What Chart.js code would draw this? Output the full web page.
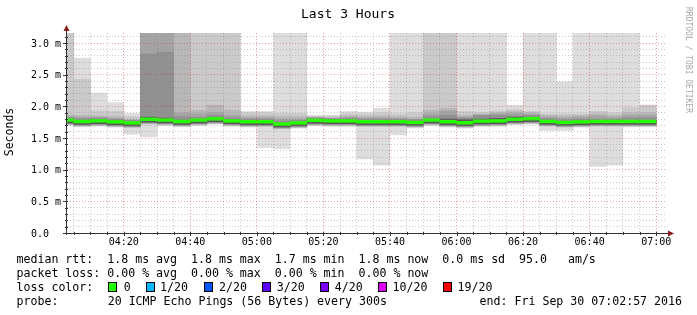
<!DOCTYPE html>
<html>
<head>
<meta charset="utf-8">
<title>Last 3 Hours</title>
<script src="https://cdn.jsdelivr.net/npm/chart.js@4.4.1/dist/chart.umd.min.js"></script>
<style>
  html, body { margin: 0; padding: 0; background: #fff; }
  canvas { display: block; }
</style>
</head>
<body>
<canvas id="smoke" width="697" height="315"></canvas>
<script>
// === SMOKEPING "Last 3 Hours", in ms ===

// start of each 5 minute step (first one is cut by the left edge)
const slotStart = [
  "04:00", "04:05", "04:10", "04:15", "04:20", "04:25", "04:30", "04:35", "04:40", "04:45", "04:50", "04:55",
  "05:00", "05:05", "05:10", "05:15", "05:20", "05:25", "05:30", "05:35", "05:40", "05:45", "05:50", "05:55",
  "06:00", "06:05", "06:10", "06:15", "06:20", "06:25", "06:30", "06:35", "06:40", "06:45", "06:50", "06:55",
];

// median rtt (green line)
const median = [1.785, 1.762, 1.773, 1.756, 1.740, 1.797, 1.785, 1.762, 1.784, 1.803, 1.772, 1.758,
  1.758, 1.721, 1.740, 1.780, 1.772, 1.772, 1.758, 1.758, 1.758, 1.747, 1.784, 1.758,
  1.742, 1.768, 1.772, 1.797, 1.806, 1.763, 1.747, 1.756, 1.763, 1.763, 1.763, 1.763];

// smoke: outer band (#ddd) top / bottom ... inner band
const hi1 = [3.5, 2.76, 2.21, 2.06, 1.89, 3.5, 3.5, 3.5, 3.5, 3.5, 3.5, 1.92,
  1.92, 3.5, 3.5, 1.86, 1.86, 1.92, 1.91, 1.97, 3.5, 3.5, 3.5, 3.5,
  3.5, 3.5, 3.5, 2.02, 3.5, 3.5, 2.39, 3.5, 3.5, 3.5, 3.5, 2.02];
const hi2 = [3.5, 2.43, 1.93, 1.92, 1.84, 3.5, 3.5, 3.5, 3.5, 3.5, 3.5, 1.90,
  1.90, 1.89, 1.89, 1.84, 1.85, 1.88, 1.88, 1.90, 1.88, 1.90, 3.5, 3.5,
  1.92, 1.90, 1.93, 1.95, 1.92, 1.88, 1.88, 1.88, 1.92, 1.90, 1.98, 2.02];
const hi3 = [1.86, 1.86, 1.85, 1.84, 1.80, 3.5, 3.5, 3.5, 1.94, 2.02, 1.94, 1.85,
  1.85, 1.84, 1.84, 1.83, 1.82, 1.85, 1.84, 1.85, 1.84, 1.83, 1.94, 1.97,
  1.86, 1.88, 1.90, 1.92, 1.90, 1.86, 1.85, 1.86, 1.88, 1.86, 1.90, 1.90];
const hi4 = [1.84, 1.83, 1.83, 1.81, 1.78, 3.5, 3.5, 1.90, 1.88, 1.90, 1.86, 1.82,
  1.82, 1.80, 1.80, 1.82, 1.81, 1.83, 1.82, 1.82, 1.81, 1.80, 1.88, 1.93,
  1.83, 1.86, 1.88, 1.89, 1.87, 1.83, 1.82, 1.83, 1.85, 1.83, 1.86, 1.86];
const hi5 = [1.825, 1.805, 1.815, 1.795, 1.78, 2.83, 2.86, 1.84, 1.83, 1.86, 1.82, 1.80,
  1.80, 1.77, 1.78, 1.82, 1.81, 1.81, 1.80, 1.80, 1.80, 1.79, 1.84, 1.86,
  1.82, 1.86, 1.86, 1.85, 1.86, 1.81, 1.79, 1.80, 1.80, 1.80, 1.82, 1.82];
const coreHi = [1.795, 1.772, 1.783, 1.766, 1.750, 1.830, 1.815, 1.772, 1.794, 1.813, 1.782, 1.768,
  1.768, 1.731, 1.750, 1.790, 1.782, 1.782, 1.768, 1.768, 1.768, 1.757, 1.794, 1.800,
  1.790, 1.800, 1.810, 1.830, 1.816, 1.773, 1.757, 1.766, 1.773, 1.773, 1.773, 1.773];
const coreLo = [1.740, 1.717, 1.728, 1.711, 1.695, 1.752, 1.740, 1.717, 1.739, 1.758, 1.727, 1.713,
  1.713, 1.676, 1.695, 1.735, 1.727, 1.727, 1.713, 1.713, 1.713, 1.702, 1.739, 1.713,
  1.697, 1.723, 1.727, 1.752, 1.761, 1.718, 1.702, 1.711, 1.718, 1.718, 1.718, 1.718];
const lo5 = [1.730, 1.707, 1.718, 1.701, 1.685, 1.742, 1.730, 1.707, 1.729, 1.748, 1.717, 1.703,
  1.703, 1.666, 1.685, 1.725, 1.717, 1.717, 1.703, 1.703, 1.703, 1.692, 1.729, 1.703,
  1.687, 1.713, 1.717, 1.742, 1.751, 1.708, 1.692, 1.701, 1.708, 1.708, 1.708, 1.708];
const lo4 = [1.723, 1.700, 1.711, 1.694, 1.678, 1.735, 1.723, 1.700, 1.722, 1.741, 1.710, 1.696,
  1.696, 1.659, 1.678, 1.718, 1.710, 1.710, 1.696, 1.696, 1.696, 1.685, 1.722, 1.696,
  1.680, 1.706, 1.710, 1.735, 1.744, 1.701, 1.685, 1.694, 1.701, 1.701, 1.701, 1.701];
const lo3 = [1.717, 1.694, 1.705, 1.688, 1.672, 1.729, 1.717, 1.694, 1.716, 1.735, 1.704, 1.690,
  1.690, 1.653, 1.672, 1.712, 1.704, 1.704, 1.690, 1.690, 1.690, 1.679, 1.716, 1.690,
  1.674, 1.700, 1.704, 1.729, 1.738, 1.695, 1.679, 1.688, 1.695, 1.695, 1.695, 1.695];
const lo2 = [1.710, 1.687, 1.698, 1.681, 1.665, 1.722, 1.710, 1.687, 1.709, 1.728, 1.697, 1.683,
  1.683, 1.646, 1.665, 1.705, 1.697, 1.697, 1.683, 1.683, 1.683, 1.672, 1.709, 1.683,
  1.667, 1.693, 1.697, 1.722, 1.731, 1.688, 1.672, 1.681, 1.688, 1.688, 1.688, 1.688];
const lo1 = [1.700, 1.677, 1.688, 1.671, 1.56, 1.52, 1.700, 1.677, 1.699, 1.718, 1.687, 1.673,
  1.35, 1.33, 1.655, 1.695, 1.687, 1.687, 1.17, 1.07, 1.55, 1.662, 1.699, 1.673,
  1.657, 1.683, 1.687, 1.712, 1.721, 1.62, 1.62, 1.671, 1.05, 1.07, 1.678, 1.678];

// axes
const xLabels = ["04:20", "04:40", "05:00", "05:20", "05:40", "06:00", "06:20", "06:40", "07:00"];
const yLabelValues = [0, 0.5, 1.0, 1.5, 2.0, 2.5, 3.0];
const yLabels = ["0.0", "0.5 m", "1.0 m", "1.5 m", "2.0 m", "2.5 m", "3.0 m"];
const rangeStart = "04:02:57";
const rangeEnd = "07:02:57";
const yTop = 3.16;

// legend text
const title = "Last 3 Hours";
const yTitle = "Seconds";
const credit = "RRDTOOL / TOBI OETIKER";
const rttLine = "median rtt:  1.8 ms avg  1.8 ms max  1.7 ms min  1.8 ms now  0.0 ms sd  95.0   am/s";
const lossLine = "packet loss: 0.00 % avg  0.00 % max  0.00 % min  0.00 % now";
const lossTitle = "loss color:";
const lossLabels = ["0", "1/20", "2/20", "3/20", "4/20", "10/20", "19/20"];
const lossColors = ["#26ff00", "#00b8ff", "#0059ff", "#5e00ff", "#7e00ff", "#dd00ff", "#ff0000"];
const probeTitle = "probe:";
const probeText = "20 ICMP Echo Pings (56 Bytes) every 300s";
const endText = "end: Fri Sep 30 07:02:57 2016";

// === helpers ===
function toMin(s) {
  const p = s.split(":").map(Number);
  return p[0] * 60 + p[1] + (p[2] || 0) / 60;
}
const STEP = 5;
const centers = slotStart.map((s) => toMin(s) + STEP / 2);
const MED_HALF = 0.022; // half thickness of the median line

function band(lo, hi, color) {
  return {
    data: centers.map((x, i) => ({ x, y: [lo[i], hi[i]] })),
    backgroundColor: color,
    borderWidth: 0,
    barPercentage: 1,
    categoryPercentage: 1,
    grouped: false,
    clip: 0,
  };
}

// first dataset is drawn on top
const datasets = [
  band(median.map((m) => m - MED_HALF), median.map((m) => m + MED_HALF), "#26ff00"),
  band(coreLo, coreHi, "#585858"),
  band(lo5, hi5, "#919191"),
  band(lo4, hi4, "#a4a4a4"),
  band(lo3, hi3, "#b7b7b7"),
  band(lo2, hi2, "#cacaca"),
  band(lo1, hi1, "#dddddd"),
];

const MINOR = "rgba(128,128,128,0.42)";
const MAJOR = "rgba(210,40,40,0.42)";
const MONO = '"DejaVu Sans Mono", monospace';

// === texts, axes and arrows drawn rrdtool style ===
const rrdPlugin = {
  id: "rrdDecor",
  afterDraw(chart) {
    const ctx = chart.ctx;
    const xs = chart.scales.x, ys = chart.scales.y;
    const a = chart.chartArea;
    ctx.save();

    // axis lines
    ctx.strokeStyle = "#333";
    ctx.lineWidth = 1;
    ctx.beginPath();
    ctx.moveTo(a.left - 0.5, a.bottom + 2);
    ctx.lineTo(a.left - 0.5, a.top - 3);
    ctx.moveTo(a.left - 3, a.bottom + 0.5);
    ctx.lineTo(a.right + 4, a.bottom + 0.5);
    ctx.stroke();

    // tick marks
    ctx.beginPath();
    xs.ticks.forEach((t) => {
      const px = Math.round(xs.getPixelForValue(t.value)) + 0.5;
      const major = Math.round(t.value) % 20 === 0;
      ctx.moveTo(px, a.bottom - 1);
      ctx.lineTo(px, a.bottom + (major ? 3 : 2));
    });
    ys.ticks.forEach((t) => {
      const py = Math.round(ys.getPixelForValue(t.value)) + 0.5;
      const major = Math.round(t.value * 10) % 5 === 0;
      ctx.moveTo(a.left + 1, py);
      ctx.lineTo(a.left - (major ? 4 : 2), py);
    });
    ctx.stroke();

    // arrows
    ctx.fillStyle = "#8b1a1a";
    ctx.beginPath();
    ctx.moveTo(a.left - 0.5, a.top - 8);
    ctx.lineTo(a.left - 3.5, a.top - 2);
    ctx.lineTo(a.left + 2.5, a.top - 2);
    ctx.closePath();
    ctx.fill();
    ctx.beginPath();
    ctx.moveTo(a.right + 8, a.bottom + 0.5);
    ctx.lineTo(a.right + 2, a.bottom - 2.5);
    ctx.lineTo(a.right + 2, a.bottom + 3.5);
    ctx.closePath();
    ctx.fill();

    ctx.fillStyle = "#000";
    ctx.textBaseline = "alphabetic";

    // x labels
    ctx.font = "10px " + MONO;
    ctx.textAlign = "center";
    xLabels.forEach((l) => ctx.fillText(l, xs.getPixelForValue(toMin(l)), a.bottom + 12));

    // y labels
    ctx.textAlign = "left";
    yLabelValues.forEach((v, i) => ctx.fillText(yLabels[i], 31, ys.getPixelForValue(v) + 3.6));

    // title
    ctx.font = "13px " + MONO;
    ctx.textAlign = "center";
    ctx.fillText(title, 348, 18);

    // y title
    ctx.font = "11.5px " + MONO;
    ctx.save();
    ctx.translate(10.5, 132);
    ctx.rotate(-Math.PI / 2);
    ctx.textBaseline = "middle";
    ctx.fillText(yTitle, 0, 0);
    ctx.restore();

    // credit on the right
    ctx.save();
    ctx.font = "8px " + MONO;
    ctx.fillStyle = "#a8a8a8";
    ctx.translate(688, 60);
    ctx.rotate(Math.PI / 2);
    ctx.textBaseline = "middle";
    ctx.fillText(credit, 0, 0);
    ctx.restore();

    // legend
    ctx.font = "11.6px " + MONO;
    ctx.textAlign = "left";
    ctx.fillText(rttLine, 16.5, 263);
    ctx.fillText(lossLine, 16.5, 277);
    ctx.fillText(lossTitle, 16.5, 291);
    const boxX = [108, 145.5, 204, 261.7, 319.5, 377.8, 442.8];
    const labX = [123.7, 160, 219, 276.8, 334.7, 392.5, 457.5];
    lossLabels.forEach((l, i) => {
      const bx = Math.round(boxX[i]);
      ctx.fillStyle = lossColors[i];
      ctx.fillRect(bx, 282, 9, 10);
      ctx.strokeStyle = "#000";
      ctx.strokeRect(bx + 0.5, 282.5, 8, 9);
      ctx.fillStyle = "#000";
      ctx.fillText(l, labX[i], 291);
    });
    ctx.fillText(probeTitle, 16.5, 305);
    ctx.fillText(probeText, 107.7, 305);
    ctx.textAlign = "right";
    ctx.fillText(endText, 682, 305);

    ctx.restore();
  },
};

const gridX = [];
for (let t = toMin("04:05"); t <= toMin("07:00"); t += STEP) gridX.push(t);
const gridY = [];
for (let k = 0; k <= 31; k++) gridY.push(k / 10);

new Chart(document.getElementById("smoke"), {
  type: "bar",
  data: { datasets },
  options: {
    responsive: false,
    animation: false,
    devicePixelRatio: 1,
    layout: { padding: { left: 0, right: 31, top: 33, bottom: 0 } },
    plugins: { legend: { display: false }, tooltip: { enabled: false } },
    scales: {
      x: {
        type: "linear",
        min: toMin(rangeStart),
        max: toMin(rangeEnd),
        offset: false,
        grid: {
          offset: false,
          z: 1,
          drawTicks: false,
          color: (c) => (c.tick && Math.round(c.tick.value) % 20 === 0 ? MAJOR : MINOR),
        },
        border: { display: false, dash: [1, 2] },
        ticks: { display: false },
        afterBuildTicks: (s) => { s.ticks = gridX.map((v) => ({ value: v })); },
        afterFit: (s) => { s.height = 82; },
      },
      y: {
        min: 0,
        max: yTop,
        grid: {
          z: 1,
          drawTicks: false,
          color: (c) => (c.tick && Math.round(c.tick.value * 10) % 5 === 0 ? MAJOR : MINOR),
        },
        border: { display: false, dash: [1, 2] },
        ticks: { display: false },
        afterBuildTicks: (s) => { s.ticks = gridY.map((v) => ({ value: v })); },
        afterFit: (s) => { s.width = 67; },
      },
    },
  },
  plugins: [rrdPlugin],
});
</script>
</body>
</html>
